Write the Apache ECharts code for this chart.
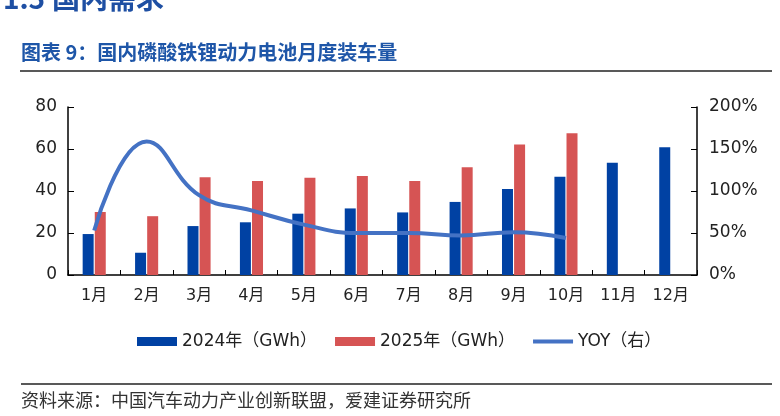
<!DOCTYPE html>
<html><head><meta charset="utf-8">
<script src="https://cdn.jsdelivr.net/npm/echarts@6/dist/echarts.min.js"></script>
<style>html,body{margin:0;padding:0;background:#fff}#c{width:780px;height:416px}</style>
</head><body><div id="c"></div>
<script>
const categories = ['1月','2月','3月','4月','5月','6月','7月','8月','9月','10月','11月','12月'];
const v2024 = [19.5, 10.6, 23.3, 25.1, 29.2, 31.7, 29.8, 34.8, 40.9, 46.8, 53.5, 60.8];
const v2025 = [30.0, 28.0, 46.5, 44.8, 46.3, 47.1, 44.8, 51.3, 62.2, 67.5, null, null];
const yoy = [53, 159, 95, 77, 60, 50, 50, 47, 51, 44, null, null];
const leftTicks = [0, 80, 20];
const rightTicks = [0, 200, 50];
const names = ['2024年（GWh）', '2025年（GWh）', 'YOY（右）'];

const chart = echarts.init(document.getElementById('c'), null, {renderer: 'canvas'});
const font = '"DejaVu Sans", "Noto Sans CJK SC", sans-serif';
const cjk = '"Noto Sans CJK SC", sans-serif';
chart.setOption({
  animation: false,
  textStyle: {fontFamily: font},
  graphic: [
    {type: 'text', left: 3, top: -16, style: {text: '1.5', font: 'bold 28px ' + cjk, fill: '#1E4FA3'}},
    {type: 'text', left: 52, top: -16, style: {text: '国内需求', font: 'bold 28px ' + cjk, fill: '#1E4FA3'}},
    {type: 'text', left: 21, top: 42, style: {text: '图表 9：国内磷酸铁锂动力电池月度装车量', font: 'bold 20px ' + cjk, fill: '#1E56A8'}},
    {type: 'line', shape: {x1: 20, y1: 71, x2: 772, y2: 71}, style: {stroke: '#222', lineWidth: 1.5}},
    {type: 'line', shape: {x1: 21, y1: 384, x2: 772, y2: 384}, style: {stroke: '#222', lineWidth: 1.5}},
    {type: 'text', left: 21, top: 391, style: {text: '资料来源：中国汽车动力产业创新联盟，爱建证券研究所', font: '18px ' + cjk, fill: '#333'}}
  ],
  legend: {
    left: 137, top: 333, padding: 0,
    itemWidth: 40, itemHeight: 9, itemGap: 18,
    textStyle: {fontSize: 17, color: '#222', fontFamily: font},
    data: [
      {name: names[0], icon: 'rect'},
      {name: names[1], icon: 'rect'},
      {name: names[2], icon: 'path://M0,0 L40,0 L40,4 L0,4 Z'}
    ]
  },
  grid: {left: 68, right: 83, top: 107, bottom: 141, containLabel: false},
  xAxis: {
    type: 'category', data: categories,
    axisLine: {lineStyle: {color: '#000', width: 1.5}},
    axisTick: {show: true, inside: true, length: 5, lineStyle: {color: '#000'}},
    axisLabel: {fontSize: 16, color: '#222', margin: 13}
  },
  yAxis: [
    {type: 'value', min: leftTicks[0], max: leftTicks[1], interval: leftTicks[2],
     axisLine: {show: true, lineStyle: {color: '#000', width: 1.5}},
     axisTick: {show: true, inside: true, length: 6, lineStyle: {color: '#000'}},
     splitLine: {show: false},
     axisLabel: {fontSize: 17, color: '#222', margin: 11}},
    {type: 'value', min: rightTicks[0], max: rightTicks[1], interval: rightTicks[2],
     axisLine: {show: true, lineStyle: {color: '#000', width: 1.5}},
     axisTick: {show: true, inside: true, length: 6, lineStyle: {color: '#000'}},
     splitLine: {show: false},
     axisLabel: {fontSize: 17, color: '#222', margin: 12, formatter: '{value}%'}}
  ],
  series: [
    {name: names[0], type: 'bar', data: v2024, barWidth: 11, barGap: '10%', itemStyle: {color: '#0041A3'}},
    {name: names[1], type: 'bar', data: v2025, barWidth: 11, itemStyle: {color: '#D65454'}},
    {name: names[2], type: 'line', yAxisIndex: 1, data: yoy, smooth: 0.45, symbol: 'none',
     lineStyle: {color: '#4472C4', width: 4}, itemStyle: {color: '#4472C4'}}
  ]
});
</script></body></html>
